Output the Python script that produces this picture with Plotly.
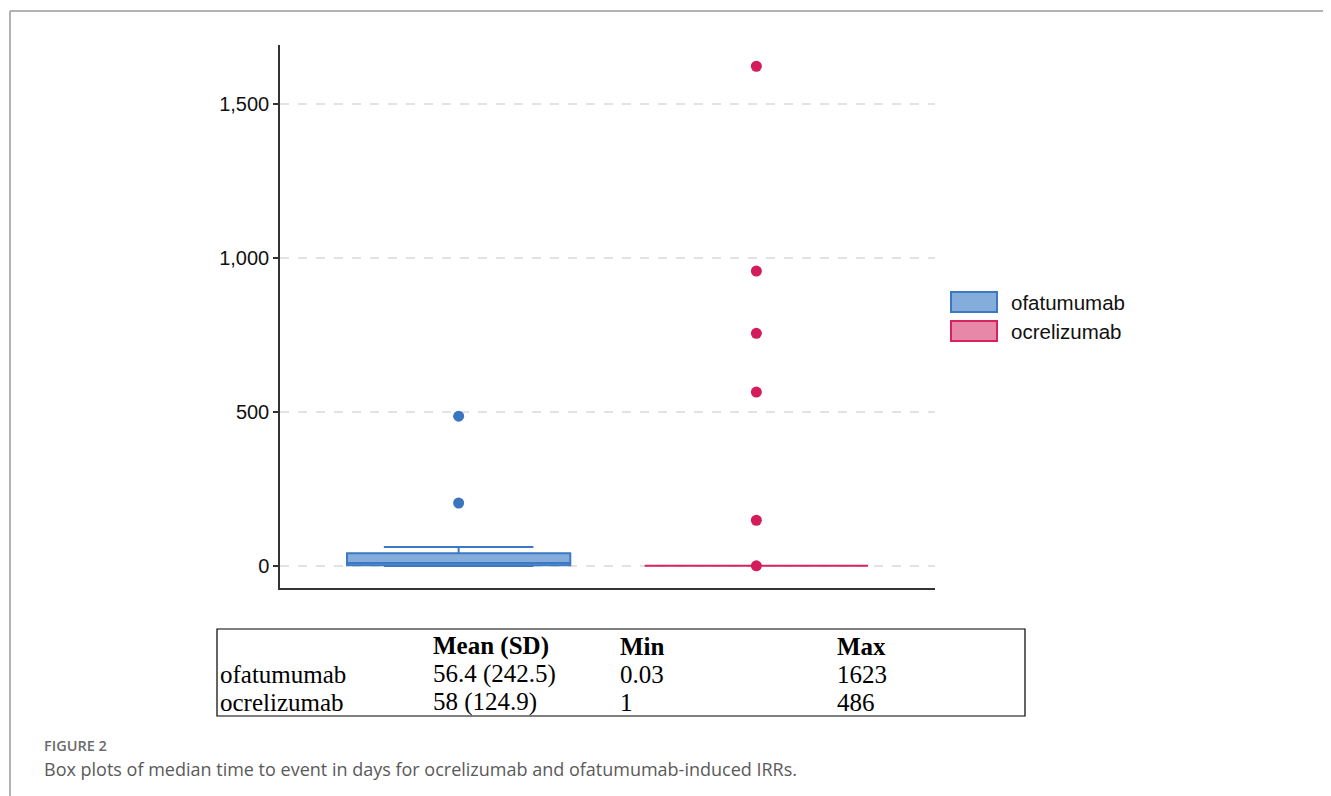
import plotly.graph_objects as go

# ---------------- data ----------------
groups = ["ofatumumab", "ocrelizumab"]
q1 = [3, 1]
median = [10, 1]
q3 = [42, 1]
lower_fence = [0.03, 1]
upper_fence = [62, 1]
outliers_ofatumumab = [205, 487]
outliers_ocrelizumab = [1, 149, 565, 756, 958, 1623]
y_ticks = [0, 500, 1000, 1500]
y_tick_labels = ["0", "500", "1,000", "1,500"]

table_header = ["", "Mean (SD)", "Min", "Max"]
table_rows = [
    ["ofatumumab", "56.4 (242.5)", "0.03", "1623"],
    ["ocrelizumab", "58 (124.9)", "1", "486"],
]
caption_label = "FIGURE 2"
caption_text = "Box plots of median time to event in days for ocrelizumab and ofatumumab-induced IRRs."

fill_colors = ["rgba(92,145,208,0.75)", "rgba(222,90,135,0.72)"]
line_colors = ["#3d79c2", "#d6225e"]
point_colors = ["#3a76bf", "#d41b5b"]

# ---------------- geometry (page pixels; page body has an 8px margin) ----------------
OFF = 8
W, H = 1331 - OFF, 796 - OFF
L, R, T, B = 280, 935, 45, 588  # plot area in page pixels


def xp(px):
    return (px - L) / (R - L)


def yp(py):
    return (B - py) / (B - T)


fig = go.Figure()

for i, g in enumerate(groups):
    fig.add_trace(go.Box(
        x=[g], q1=[q1[i]], median=[median[i]], q3=[q3[i]],
        lowerfence=[lower_fence[i]], upperfence=[upper_fence[i]],
        fillcolor=fill_colors[i], line=dict(color=line_colors[i], width=2),
        width=0.75, whiskerwidth=0.67, boxpoints=False,
        name=g, showlegend=False, hoverinfo="skip",
    ))

outs = [outliers_ofatumumab, outliers_ocrelizumab]
for i, g in enumerate(groups):
    fig.add_trace(go.Scatter(
        x=[g] * len(outs[i]), y=outs[i], mode="markers",
        marker=dict(color=point_colors[i], size=11),
        showlegend=False, name=g,
    ))

shapes = []
annotations = []

# manual legend
leg_rects = [(292, 312), (321, 341)]
for i, g in enumerate(groups):
    y0, y1 = leg_rects[i]
    shapes.append(dict(type="rect", xref="paper", yref="paper",
                       x0=xp(951), x1=xp(997), y0=yp(y1), y1=yp(y0),
                       fillcolor=fill_colors[i], line=dict(color=line_colors[i], width=2)))
    annotations.append(dict(xref="paper", yref="paper", x=xp(1009), y=yp((y0 + y1) / 2),
                            text=g, showarrow=False, xanchor="left", yanchor="middle",
                            font=dict(family="Liberation Sans, Arial", size=20.5, color="#111")))

# table
shapes.append(dict(type="rect", xref="paper", yref="paper",
                   x0=xp(217), x1=xp(1025), y0=yp(716), y1=yp(629),
                   line=dict(color="#000", width=1.2), fillcolor="rgba(0,0,0,0)"))
col_x = [218, 431, 618, 835]
row_y = [646, 674, 702]
for j, txt in enumerate(table_header):
    if txt:
        annotations.append(dict(xref="paper", yref="paper", x=xp(col_x[j]), y=yp(row_y[0]),
                                text="<b>" + txt + "</b>", showarrow=False, xanchor="left", yanchor="middle",
                                font=dict(family="Liberation Serif, Times New Roman", size=25, color="#000")))
for r, row in enumerate(table_rows):
    for j, txt in enumerate(row):
        annotations.append(dict(xref="paper", yref="paper", x=xp(col_x[j]), y=yp(row_y[r + 1]),
                                text=txt, showarrow=False, xanchor="left", yanchor="middle",
                                font=dict(family="Liberation Serif, Times New Roman", size=25, color="#000")))

# caption
annotations.append(dict(xref="paper", yref="paper", x=xp(42), y=yp(745), text=caption_label,
                        showarrow=False, xanchor="left", yanchor="middle",
                        font=dict(family="Open Sans", size=14.5, color="#6b6b6b", weight=600)))
annotations.append(dict(xref="paper", yref="paper", x=xp(42), y=yp(769), text=caption_text,
                        showarrow=False, xanchor="left", yanchor="middle",
                        font=dict(family="Open Sans", size=18, color="#5a5a5a")))

# frame lines
shapes.append(dict(type="line", xref="paper", yref="paper", x0=xp(10), x1=xp(1331),
                   y0=yp(11), y1=yp(11), line=dict(color="#9a9a9a", width=1.5)))
shapes.append(dict(type="line", xref="paper", yref="paper", x0=xp(10), x1=xp(10),
                   y0=yp(11), y1=yp(796), line=dict(color="#9a9a9a", width=1.5)))

fig.update_layout(
    width=W, height=H,
    margin=dict(l=L - OFF, r=1331 - R, t=T - OFF, b=796 - B, pad=0),
    paper_bgcolor="white", plot_bgcolor="white",
    showlegend=False,
    shapes=shapes, annotations=annotations,
    xaxis=dict(type="category", categoryorder="array", categoryarray=groups,
               range=[-0.6, 1.6], showticklabels=False, ticks="", showgrid=False,
               showline=True, linecolor="#333", linewidth=1.5, zeroline=False),
    yaxis=dict(range=[-71, 1692], tickvals=y_ticks, ticktext=y_tick_labels,
               showline=True, linecolor="#333", linewidth=1.5, ticks="outside",
               ticklen=5, tickcolor="#333", tickwidth=1.5,
               showgrid=True, gridcolor="#e3e3e3", griddash="dash", gridwidth=1.5,
               zeroline=False,
               tickfont=dict(family="Liberation Sans, Arial", size=20, color="#111")),
)

fig.write_html("out.html")
